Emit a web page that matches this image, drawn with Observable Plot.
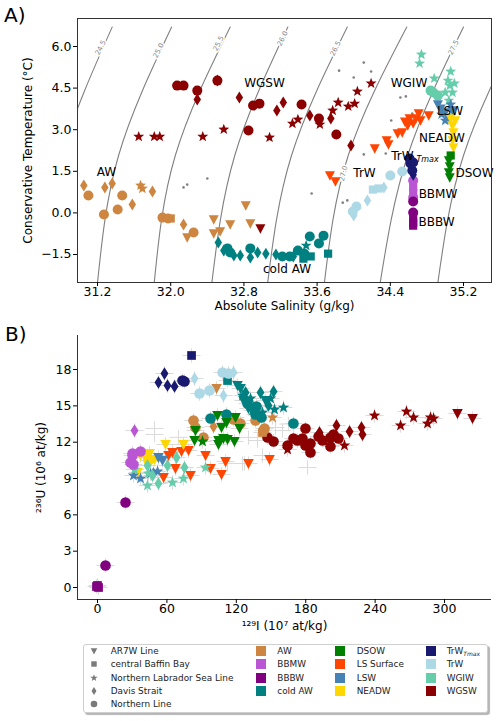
<!DOCTYPE html>
<html><head><meta charset="utf-8">
<script src="https://cdn.jsdelivr.net/npm/d3@7"></script>
<script src="https://cdn.jsdelivr.net/npm/@observablehq/plot@0.6"></script>
<style>
body{margin:0;background:#fff;font-family:"DejaVu Sans",sans-serif;}
#wrap{position:relative;width:500px;height:721px;overflow:hidden;background:#fff}
.panel{position:absolute;left:0}
#legend{position:absolute;left:83px;top:644px;width:403px;height:67px;border:1px solid #cfcfcf;border-radius:3px;box-shadow:2px 2px 1px #b5b5b5;background:#fff;font-size:8.9px;color:#222}
.li{position:absolute;white-space:nowrap;line-height:10px;transform:translateY(-50%)}
.sw{position:absolute;width:10px;height:10px;transform:translate(-50%,-50%)}
</style></head><body><div id="wrap"></div>
<script>
// ---------- categories ----------
const massNames = ["AW","BBMW","BBBW","cold AW","DSOW","LS Surface","LSW","NEADW","TrWTmax","TrW","WGIW","WGSW"];
const massColors = ["#CD853F","#BA55D3","#800080","#008080","#008000","#FF4500","#4682B4","#FFD700","#191970","#ADD8E6","#66CDAA","#8B0000"];
const lineNames = ["AR7W Line","central Baffin Bay","Northern Labrador Sea Line","Davis Strait","Northern Line"];
const lineCodes = ["T","S","St","D","C"];

// ---------- ticks ----------
const saTicks = [31.2,32.0,32.8,33.6,34.4,35.2];
const ctTicks = [-1.5,0,1.5,3,4.5,6];
const iTicks = [0,60,120,180,240,300];
const uTicks = [0,3,6,9,12,15,18];
const saDomain = [30.981,35.506];
const ctDomain = [-2.51,7.01];
const iDomain = [-17.3,340.6];
const uDomain = [-0.99,20.81];

// ---------- isopycnals (sigma0) ----------
const isoLevels = ["24.5","25.0","25.5","26.0","26.5","27.0","27.5","28.0"];
const isoCT = [6.7,2.07,-2.51];
const isoSA = [
  [31.36,30.81,30.58],
  [32.01,31.43,31.20],
  [32.65,32.05,31.82],
  [33.28,32.70,32.45],
  [33.93,33.32,33.06],
  [34.58,33.94,33.68],
  [35.20,34.59,34.29],
  [35.82,35.20,34.92]
];
const isoLabelText = ["24.5","25.0","25.5","26.0","26.5","27.0","27.5"];
const isoLabelSA = [31.233,31.867,32.522,33.222,33.801,33.888,35.091];
const isoLabelCT = [5.96,5.856,6.108,6.289,5.928,1.42,5.964];
const isoLabelRot = [-62,-63,-63,-63,-63,-76,-63];

// ---------- panel A: [SA, CT, line] ----------
const tsAW = [[31.05,0.99,"D"],[31.28,0.92,"D"],[31.36,1.06,"D"],[31.80,0.77,"D"],[31.58,0.30,"D"],[32.14,-0.42,"D"],
 [31.10,0.63,"C"],[31.47,0.63,"C"],[31.42,0.12,"C"],[31.27,-0.06,"C"],[31.91,-0.17,"C"],[31.97,-0.20,"C"],[32.25,-0.71,"C"],
 [32.00,-0.20,"S"],[31.67,0.99,"St"],[31.69,0.88,"St"],
 [32.18,-0.89,"T"],[32.47,-0.74,"T"],[32.47,-0.24,"T"],[32.54,-0.67,"T"],[32.65,-0.42,"T"],[32.82,0.27,"T"],[32.87,-0.38,"T"]];
const tsBBMW = [[34.65,1.17,"C"],[34.65,0.92,"S"],[34.65,0.73,"S"],[34.65,0.55,"C"]];
const tsBBBW = [[34.65,0.41,"C"],[34.65,0.01,"C"],[34.65,-0.17,"S"],[34.65,-0.35,"S"],[34.65,-0.46,"S"]];
const tsColdAW = [[33.52,-0.85,"C"],[33.67,-0.82,"C"],[33.62,-1.10,"C"],[33.46,-1.47,"C"],[33.39,-1.36,"C"],[33.30,-1.57,"C"],[33.22,-1.57,"C"],
 [33.72,-1.47,"S"],[33.45,-1.65,"S"],[33.53,-1.57,"S"],[33.48,-1.18,"St"],
 [33.04,-1.47,"D"],[32.95,-1.43,"D"],[32.87,-1.61,"D"],[32.52,-1.07,"D"],[32.58,-1.36,"D"],[32.69,-1.54,"D"],[32.76,-1.54,"D"],[33.34,-1.57,"D"],[33.15,-1.50,"D"],
 [32.62,-1.28,"C"],[32.65,-1.43,"C"],[32.87,-1.28,"C"]];
const tsDSOW = [[35.06,2.07,"S"],[35.04,1.89,"T"],[35.05,1.67,"T"],[35.04,1.46,"T"],[35.05,1.28,"T"]];
const tsLSSurf = [[34.61,3.40,"T"],[34.65,3.22,"T"],[34.71,3.58,"T"],[34.59,3.15,"T"],[34.82,3.51,"T"],[34.48,2.86,"T"],[34.53,2.90,"T"],
 [34.36,2.61,"T"],[34.38,2.47,"T"],[34.23,2.32,"T"],[33.74,1.35,"T"],[33.80,1.13,"T"],[34.68,3.40,"T"],[34.56,3.29,"T"],[34.73,3.33,"T"]];
const tsLSW = [[34.95,3.76,"T"],[35.00,3.62,"T"],[35.04,3.40,"T"],[34.96,3.55,"St"],[35.00,3.33,"St"],[35.08,3.69,"T"],[34.92,3.91,"T"],[35.06,3.91,"St"]];
const tsNEADW = [[35.06,3.40,"T"],[35.08,3.15,"T"],[35.09,2.90,"T"],[35.08,2.61,"T"],[35.09,2.36,"T"],[35.11,3.33,"T"]];
const tsTrWTmax = [[34.62,1.78,"C"],[34.65,1.82,"C"],[34.64,1.53,"C"],[34.61,1.96,"C"],[34.65,1.38,"D"]];
const tsTrW = [[34.53,1.49,"C"],[34.40,1.35,"C"],[34.21,0.84,"S"],[34.27,0.88,"S"],[34.33,0.92,"D"],[34.15,0.45,"D"],[34.03,0.23,"C"],[34.00,-0.09,"D"],[33.99,0.05,"C"]];
const tsWGIW = [[34.74,5.71,"St"],[34.72,5.39,"St"],[34.88,4.85,"St"],[35.06,5.10,"St"],[35.03,4.77,"St"],[35.05,4.59,"St"],[35.08,4.34,"St"],
 [35.00,4.34,"St"],[35.10,4.67,"St"],[35.04,4.05,"St"],[34.84,4.41,"C"],[34.92,4.23,"C"],[34.87,4.34,"C"]];
const tsWGSW = [[32.07,4.59,"C"],[32.14,4.59,"C"],[32.29,4.41,"C"],[32.29,4.09,"D"],[32.51,4.77,"C"],[32.51,4.77,"D"],[32.75,4.16,"D"],[32.85,2.97,"C"],
 [31.65,2.75,"St"],[31.82,2.75,"St"],[31.88,2.75,"St"],[32.35,2.75,"St"],[32.58,3.01,"St"],
 [32.90,3.87,"C"],[32.97,3.94,"C"],[33.16,3.69,"D"],[33.23,3.98,"D"],[33.43,3.91,"C"],[33.33,3.22,"St"],[33.39,3.37,"St"],[33.52,3.51,"D"],
 [33.62,3.40,"C"],[33.63,3.19,"St"],[33.75,3.40,"D"],[33.77,3.69,"St"],[33.81,2.83,"C"],[33.08,2.72,"St"],[33.83,3.98,"St"],[33.94,3.84,"St"],
 [34.01,3.94,"St"],[34.04,4.38,"St"],[34.19,4.67,"St"],[33.97,2.43,"D"],[32.98,-0.56,"T"]];
const tsOther = [[34.11,5.42],[33.84,5.13],[34.00,4.88],[34.19,5.10],[34.51,4.16],[34.57,4.20],[34.41,3.33],[34.64,3.58],[34.11,2.11],[34.35,2.14],
 [32.14,0.92],[32.18,1.02],[32.40,1.24],[33.54,0.70],[33.88,0.37],[33.93,0.45]];

const annoText = ["AW","WGSW","WGIW","LSW","NEADW","TrW","DSOW","TrW","BBMW","BBBW","cold AW"];
const annoSA = [31.298,33.025,34.604,35.052,34.965,34.533,35.32,34.118,34.921,34.905,33.271];
const annoCT = [1.456,4.666,4.666,3.656,2.682,2.033,1.42,1.42,0.663,-0.347,-2.04];
const subText = ["Tmax"];
const subSA = [34.807];
const subCT = [1.925];

// ---------- panel B: [129I, 236U, line] ----------
const uiAW = [[102.9,16.43,"T"],[83.0,13.79,"C"],[84.7,13.21,"C"],[91.6,12.39,"C"],[100.3,13.29,"D"],[136.6,13.79,"C"],[143.5,12.96,"C"],
 [117.6,13.87,"C"],[123.6,13.54,"C"],[151.3,14.04,"St"],[144.4,13.13,"C"],[142.6,12.80,"S"]];
const uiBBMW = [[32.0,12.96,"D"],[37.2,11.23,"C"],[30.3,11.07,"C"],[28.5,10.32,"C"],[31.1,10.16,"C"],[30.3,10.90,"C"]];
const uiBBBW = [[24.2,7.02,"C"],[6.9,1.82,"C"],[0,0.17,"S"],[0.9,0.0,"S"],[-0.9,0.08,"S"]];
const uiColdAW = [[112.4,17.09,"S"],[97.7,13.96,"C"],[111.5,14.29,"C"],[141.8,14.04,"C"],[169.4,13.54,"C"],[140.9,16.10,"D"],[152.2,16.18,"D"],
 [160.8,14.86,"St"],[153.0,14.70,"St"],[121.0,16.68,"T"],[123.6,16.43,"T"],[125.4,15.85,"St"],[128.0,16.10,"D"],[126.2,15.44,"T"],
 [129.7,15.19,"C"],[132.3,15.61,"St"],[130.5,14.78,"T"],[134.0,14.62,"St"],[137.5,14.95,"C"],[142.6,14.45,"St"],[145.2,15.44,"T"],
 [147.8,15.03,"D"],[149.6,15.61,"St"],[136.6,14.29,"C"]];
const uiDSOW = [[103.7,14.20,"T"],[111.5,13.62,"T"],[107.2,13.21,"T"],[84.7,12.96,"T"],[83.9,12.14,"T"],[104.6,12.14,"T"],[108.9,12.30,"T"],
 [112.4,12.22,"T"],[118.4,12.06,"T"],[122.8,13.13,"T"],[119.3,14.04,"T"],[90.8,12.06,"St"],[104.6,11.81,"T"]];
const uiLSSurf = [[61.4,10.90,"T"],[64.8,11.15,"T"],[72.6,11.23,"T"],[78.7,11.31,"T"],[93.4,10.90,"T"],[67.4,9.83,"T"],[80.4,9.25,"T"],
 [97.7,9.83,"T"],[110.7,10.40,"T"],[107.2,9.33,"T"],[130.5,10.24,"T"],[148.7,10.57,"T"],[57.1,9.08,"T"]];
const uiLSW = [[31.1,9.25,"St"],[37.2,9.00,"St"],[45.8,9.41,"St"],[51.9,9.58,"St"],[52.7,10.73,"T"],[56.2,10.49,"T"],[48.4,9.41,"D"]];
const uiNEADW = [[58.8,11.81,"T"],[74.3,11.81,"T"],[45.0,11.07,"T"],[37.2,10.90,"T"],[49.3,10.57,"T"],[41.5,10.73,"T"],[34.6,9.50,"T"],[44.1,10.49,"C"]];
const uiTrWTmax = [[81.3,19.16,"S"],[52.7,16.93,"D"],[57.9,17.67,"D"],[60.5,16.68,"D"],[66.6,16.60,"D"],[75.2,17.01,"C"],[73.5,17.09,"C"]];
const uiTrW = [[83.9,17.26,"D"],[88.2,16.02,"C"],[96.8,16.27,"C"],[108.1,17.76,"C"],[113.3,17.67,"C"],[117.6,17.76,"D"],[108.9,15.85,"D"]];
const uiWGIW = [[43.2,8.42,"St"],[64.8,8.67,"St"],[74.3,9.00,"St"],[93.4,9.91,"St"],[60.5,10.07,"D"],[68.3,10.73,"D"],[75.2,9.91,"D"],
 [47.5,9.25,"D"],[32.0,9.74,"St"],[52.7,8.59,"D"],[44.1,9.41,"St"],[43.2,10.07,"D"]];
const uiWGSW = [[239.5,14.20,"St"],[267.1,14.53,"St"],[273.2,14.04,"St"],[262.0,13.38,"St"],[285.3,13.54,"St"],[290.5,13.96,"St"],[287.9,14.04,"St"],
 [311.2,14.37,"T"],[324.2,13.96,"T"],[206.6,13.38,"D"],[217.9,12.88,"D"],[228.2,13.21,"D"],[229.1,12.63,"D"],[191.9,12.80,"D"],
 [179.8,13.13,"C"],[169.4,12.30,"C"],[177.2,12.30,"C"],[184.1,11.89,"C"],[184.1,11.15,"C"],[201.4,12.39,"C"],[204.0,12.63,"C"],
 [201.4,11.64,"C"],[191.1,12.47,"C"],[147.0,12.39,"C"],[152.2,12.06,"C"],[164.3,11.73,"C"],[179.8,11.73,"C"],[213.5,11.73,"St"],
 [164.3,11.40,"St"],[172.9,12.14,"C"],[194.5,12.14,"C"],[208.3,12.30,"C"]];
const uiOther = [[49.3,13.13],[49.3,12.63],[130.5,12.39],[138.3,12.14],[142.6,10.90],[153.9,13.21],[159.9,12.96],[127.1,10.24],
 [112.4,10.24],[125.4,10.24],[181.6,9.91],[204.0,12.14],[70,12.4],[165,13.5]];

// ---------- symbols (matplotlib-like) ----------
const symTri = {draw(c,s){const r=Math.sqrt(s/Math.PI); c.moveTo(-r,-r*0.85); c.lineTo(r,-r*0.85); c.lineTo(0,r*1.05); c.closePath();}};
const symSq = {draw(c,s){const r=Math.sqrt(s/Math.PI)*0.82; c.rect(-r,-r,2*r,2*r);}};
const symStar = {draw(c,s){const R=Math.sqrt(s/Math.PI)*1.15, ri=R*0.42; for(let i=0;i<10;i++){const a=-Math.PI/2+i*Math.PI/5, rr=i%2?ri:R; const px=rr*Math.cos(a), py=rr*Math.sin(a); if(i) c.lineTo(px,py); else c.moveTo(px,py);} c.closePath();}};
const symDia = {draw(c,s){const r=Math.sqrt(s/Math.PI)*1.2; c.moveTo(0,-r); c.lineTo(r*0.62,0); c.lineTo(0,r); c.lineTo(-r*0.62,0); c.closePath();}};
const symCirc = {draw(c,s){const r=Math.sqrt(s/Math.PI); c.moveTo(r,0); c.arc(0,0,r,0,2*Math.PI);}};
const symPlus = {draw(c,s){const r=Math.sqrt(s/Math.PI); c.moveTo(-r,0); c.lineTo(r,0); c.moveTo(0,-r*0.8); c.lineTo(0,r*0.8);}};
const symOf = {T:symTri,S:symSq,St:symStar,D:symDia,C:symCirc};
const colorOf = Object.fromEntries(massNames.map((m,i)=>[m,massColors[i]]));

const tsGroups = [["AW",tsAW],["cold AW",tsColdAW],["WGSW",tsWGSW],["WGIW",tsWGIW],["LS Surface",tsLSSurf],["LSW",tsLSW],["NEADW",tsNEADW],
  ["DSOW",tsDSOW],["TrW",tsTrW],["BBMW",tsBBMW],["BBBW",tsBBBW],["TrWTmax",tsTrWTmax]];
const uiGroups = [["WGSW",uiWGSW],["AW",uiAW],["cold AW",uiColdAW],["TrW",uiTrW],["TrWTmax",uiTrWTmax],["DSOW",uiDSOW],["LS Surface",uiLSSurf],
  ["NEADW",uiNEADW],["LSW",uiLSW],["WGIW",uiWGIW],["BBMW",uiBBMW],["BBBW",uiBBBW]];

function dotMarks(groups, r){
  const out=[];
  for (const [m,arr] of groups) for (const code of lineCodes){
    const rows = arr.filter(d=>d[2]===code);
    if (rows.length) out.push(Plot.dot(rows,{x:d=>d[0],y:d=>d[1],fill:colorOf[m],symbol:symOf[code],r}));
  }
  return out;
}

const isoRows = isoLevels.flatMap((lv,i)=>isoCT.map((ct,j)=>({level:lv,sa:isoSA[i][j],ct})));
const isoLabRows = isoLabelText.map((t,i)=>({t,sa:isoLabelSA[i],ct:isoLabelCT[i],rot:isoLabelRot[i]}));
const annoRows = annoText.map((t,i)=>({t,sa:annoSA[i],ct:annoCT[i]}));
const subRows = subText.map((t,i)=>({t,sa:subSA[i],ct:subCT[i]}));

const baseStyle = {fontFamily:"DejaVu Sans",fontSize:"12.5px",color:"#000",background:"transparent",overflow:"visible"};

const plotA = Plot.plot({
  width:500,height:320,marginTop:18,marginBottom:38,marginLeft:77,marginRight:9,
  x:{domain:saDomain},y:{domain:ctDomain},style:baseStyle,
  marks:[
    Plot.line(isoRows,{x:"sa",y:"ct",z:"level",curve:"natural",stroke:"#808080",strokeWidth:1.1,clip:true}),
    Plot.text(isoLabRows,{x:"sa",y:"ct",text:"t",rotate:d=>d.rot,fontSize:7,fill:"#8a8a8a",stroke:"white",strokeWidth:3}),
    Plot.dot(tsOther,{x:d=>d[0],y:d=>d[1],r:1.3,fill:"#808080"}),
    ...dotMarks(tsGroups,5),
    Plot.text(annoRows,{x:"sa",y:"ct",text:"t",fontSize:12,fill:"#000"}),
    Plot.text(subRows,{x:"sa",y:"ct",text:"t",fontSize:8,fontStyle:"italic",fill:"#000"}),
    Plot.frame({stroke:"#333",strokeWidth:1}),
    Plot.axisX({ticks:saTicks,tickFormat:d3.format(".1f"),tickSize:4,tickPadding:1,label:null}),
    Plot.axisY({ticks:ctTicks,tickFormat:d3.format(".1f"),tickSize:4,tickPadding:2,label:null}),
    Plot.text(["Absolute Salinity (g/kg)"],{frameAnchor:"bottom",dy:24,text:d=>d,fontSize:12,textAnchor:"middle",lineAnchor:"middle"}),
    Plot.text(["Conservative Temperature (°C)"],{frameAnchor:"left",dx:-49,rotate:-90,text:d=>d,fontSize:12,textAnchor:"middle",lineAnchor:"middle"})
  ]
});

const errRows = uiGroups.flatMap(([m,arr])=>arr).concat(uiOther);
const plotB = Plot.plot({
  width:500,height:318,marginTop:15,marginBottom:39,marginLeft:77,marginRight:9,
  x:{domain:iDomain},y:{domain:uDomain},style:baseStyle,
  marks:[
    Plot.dot(errRows,{x:d=>d[0],y:d=>d[1],symbol:symPlus,r:9,fill:"none",stroke:"#dadada",strokeWidth:1}),
    ...dotMarks(uiGroups,5.3),
    Plot.ruleX([iDomain[0]],{stroke:"#333",strokeWidth:1}),
    Plot.ruleY([uDomain[0]],{stroke:"#333",strokeWidth:1}),
    Plot.axisX({ticks:iTicks,tickFormat:d=>String(d),tickSize:4,tickPadding:1,label:null}),
    Plot.axisY({ticks:uTicks,tickFormat:d=>String(d),tickSize:4,tickPadding:2,label:null}),
    Plot.text(["¹²⁹I (10⁷ at/kg)"],{frameAnchor:"bottom",dy:27,text:d=>d,fontSize:12,textAnchor:"middle",lineAnchor:"middle"}),
    Plot.text(["²³⁶U (10⁶ at/kg)"],{frameAnchor:"left",dx:-36,rotate:-90,text:d=>d,fontSize:12,textAnchor:"middle",lineAnchor:"middle"})
  ]
});

const wrap = document.getElementById("wrap");
plotA.classList.add("panel"); plotA.style.top="0px";
plotB.classList.add("panel"); plotB.style.top="320px";
wrap.appendChild(plotA); wrap.appendChild(plotB);

// panel letters
const ns="http://www.w3.org/2000/svg";
const ov=document.createElementNS(ns,"svg");
ov.setAttribute("width","500"); ov.setAttribute("height","721");
ov.style.cssText="position:absolute;left:0;top:0;pointer-events:none";
[["A)",4,22],["B)",5,341]].forEach(([t,x,y])=>{
  const e=document.createElementNS(ns,"text"); e.setAttribute("x",x); e.setAttribute("y",y);
  e.setAttribute("font-family","DejaVu Sans"); e.setAttribute("font-size","20"); e.textContent=t; ov.appendChild(e);
});
wrap.appendChild(ov);

// legend
const leg=document.createElement("div"); leg.id="legend"; wrap.appendChild(leg);
const L0=83, T0=644;
const rowY=[651,664.3,677.7,691,704.3];
lineNames.forEach((name,i)=>{
  const s=document.createElementNS(ns,"svg"); s.setAttribute("width","12"); s.setAttribute("height","12");
  s.style.cssText=`position:absolute;left:${93.3-L0-6}px;top:${rowY[i]-T0-6-1}px`;
  const p=document.createElementNS(ns,"path");
  p.setAttribute("d",d3.symbol(symOf[lineCodes[i]],Math.PI*3.3*3.3)());
  p.setAttribute("transform","translate(6,6)"); p.setAttribute("fill","#7a7a7a"); s.appendChild(p); leg.appendChild(s);
  const t=document.createElement("div"); t.className="li"; t.style.left=(110.7-L0-1)+"px"; t.style.top=(rowY[i]-T0-1)+"px"; t.textContent=name; leg.appendChild(t);
});
const colX=[[261.3,277.3],[340,356.7],[431,446.7]];
massNames.forEach((m,i)=>{
  const c=Math.floor(i/4), r=i%4;
  const sw=document.createElement("div"); sw.className="sw"; sw.style.background=massColors[i];
  sw.style.left=(colX[c][0]-L0-1)+"px"; sw.style.top=(rowY[r]-T0-1)+"px"; leg.appendChild(sw);
  const t=document.createElement("div"); t.className="li"; t.style.left=(colX[c][1]-L0-1)+"px"; t.style.top=(rowY[r]-T0-1)+"px";
  if (m==="TrWTmax"){ t.innerHTML='TrW<span style="font-size:6px;font-style:italic;position:relative;top:2px">Tmax</span>'; }
  else t.textContent=m;
  leg.appendChild(t);
});
</script></body></html>
